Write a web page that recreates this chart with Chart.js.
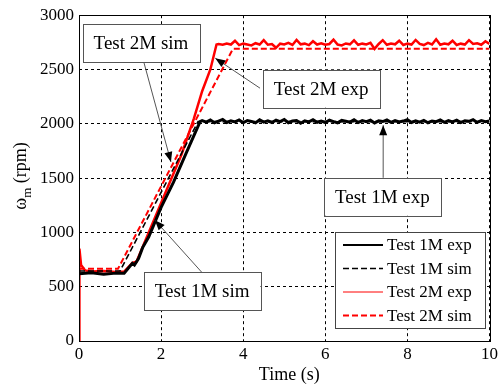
<!DOCTYPE html>
<html>
<head>
<meta charset="utf-8">
<script src="https://cdn.jsdelivr.net/npm/chart.js@4"></script>
<style>
  html, body { margin: 0; padding: 0; background: #fff; }
  #wrap { width: 501px; height: 385px; }
</style>
</head>
<body>
<div id="wrap"><canvas id="speedChart" width="501" height="385"></canvas></div>
<script>
// Test 1M exp (measured, black solid)
const t1mExp = [0, 0.3, 0.6, 0.9, 1.1, 1.3, 1.35, 1.45, 1.55, 1.7, 2.0, 2.3, 2.6, 2.95,
  3.0, 3.1, 3.2, 3.3, 3.4, 3.5, 3.6, 3.7, 3.8, 3.9,
  4.0, 4.1, 4.2, 4.3, 4.4, 4.5, 4.6, 4.7, 4.8, 4.9,
  5.0, 5.1, 5.2, 5.3, 5.4, 5.5, 5.6, 5.7, 5.8, 5.9,
  6.0, 6.1, 6.2, 6.3, 6.4, 6.5, 6.6, 6.7, 6.8, 6.9,
  7.0, 7.1, 7.2, 7.3, 7.4, 7.5, 7.6, 7.7, 7.8, 7.9,
  8.0, 8.1, 8.2, 8.3, 8.4, 8.5, 8.6, 8.7, 8.8, 8.9,
  9.0, 9.1, 9.2, 9.3, 9.4, 9.5, 9.6, 9.7, 9.8, 9.9, 10.0];
const w1mExp = [620, 628, 615, 625, 625, 715, 700, 760, 860, 960, 1230, 1460, 1720, 2020,
  2030, 2015, 2035, 2010, 2025, 2040, 2012, 2028, 2018, 2035,
  2010, 2030, 2022, 2008, 2036, 2015, 2027, 2012, 2033, 2020,
  2040, 2010, 2025, 2030, 2005, 2028, 2018, 2038, 2014, 2026,
  2012, 2034, 2020, 2009, 2031, 2024, 2015, 2037, 2011, 2029,
  2019, 2033, 2008, 2027, 2021, 2036, 2013, 2030, 2017, 2025,
  2039, 2012, 2028, 2016, 2032, 2010, 2026, 2020, 2035, 2014,
  2029, 2018, 2034, 2011, 2027, 2023, 2038, 2013, 2030, 2019, 2025];

// Test 1M sim (black dashed)
const t1mSim = [0, 1.0, 2.9, 10];
const w1mSim = [645, 645, 2020, 2020];

// Test 2M exp (measured, red solid)
const t2mExp = [0, 0.01, 0.05, 0.15, 0.3, 0.6, 0.9, 1.1, 1.3, 1.4, 1.5, 2.0, 2.5, 2.8, 3.0, 3.2, 3.35,
  3.4, 3.5, 3.6, 3.7, 3.8, 3.9,
  4.0, 4.1, 4.2, 4.3, 4.4, 4.5, 4.6, 4.7, 4.8, 4.9,
  5.0, 5.1, 5.2, 5.3, 5.4, 5.5, 5.6, 5.7, 5.8, 5.9,
  6.0, 6.1, 6.2, 6.3, 6.4, 6.5, 6.6, 6.7, 6.8, 6.9,
  7.0, 7.1, 7.2, 7.3, 7.4, 7.5, 7.6, 7.7, 7.8, 7.9,
  8.0, 8.1, 8.2, 8.3, 8.4, 8.5, 8.6, 8.7, 8.8, 8.9,
  9.0, 9.1, 9.2, 9.3, 9.4, 9.5, 9.6, 9.7, 9.8, 9.9, 10.0];
const w2mExp = [0, 850, 700, 650, 640, 645, 635, 640, 720, 730, 820, 1270, 1720, 2050, 2300, 2500, 2730,
  2735, 2728, 2740, 2730, 2765, 2725,
  2738, 2730, 2722, 2742, 2730, 2770, 2728, 2735, 2700, 2738,
  2730, 2745, 2726, 2772, 2732, 2738, 2725, 2760, 2730, 2742,
  2728, 2735, 2775, 2730, 2722, 2740, 2732, 2768, 2728, 2738,
  2730, 2745, 2690, 2735, 2770, 2728, 2740, 2732, 2765, 2726,
  2738, 2730, 2772, 2735, 2725, 2745, 2730, 2778, 2728, 2740,
  2732, 2765, 2726, 2738, 2730, 2770, 2735, 2742, 2728, 2760, 2735];

// Test 2M sim (red dashed)
const t2mSim = [0, 0.95, 3.75, 10];
const w2mSim = [665, 665, 2690, 2690];

const xTicks = [0, 2, 4, 6, 8, 10];
const yTicks = [0, 500, 1000, 1500, 2000, 2500, 3000];

const seriesNames = ['Test 1M exp', 'Test 1M sim', 'Test 2M exp', 'Test 2M sim'];

// callout boxes: centre, arrow tail and arrow tip in data units (s, rpm)
const callouts = [
  { text: 'Test 2M sim', box: [1.51, 2742], from: [1.58, 2567], to: [2.24, 1649] },
  { text: 'Test 2M exp', box: [5.90, 2323], from: [4.41, 2328], to: [3.32, 2604] },
  { text: 'Test 1M exp', box: [7.39, 1328], from: [7.41, 1499], to: [7.41, 1987] },
  { text: 'Test 1M sim', box: [3.00, 458], from: [2.99, 633], to: [1.85, 1112] }
];

const serif = '"Liberation Serif", "DejaVu Serif", serif';

const toPoints = (xs, ys) => xs.map((x, i) => ({ x: x, y: ys[i] }));

const extras = {
  id: 'extras',
  afterDraw(chart) {
    const ctx = chart.ctx;
    const area = chart.chartArea;
    const xs = chart.scales.x;
    const ys = chart.scales.y;
    ctx.save();

    // frame
    ctx.strokeStyle = '#000';
    ctx.lineWidth = 1;
    ctx.setLineDash([]);
    ctx.strokeRect(Math.round(area.left) + 0.5, Math.round(area.top) + 0.5,
      Math.round(area.right - area.left), Math.round(area.bottom - area.top));

    // callouts
    ctx.font = '19px ' + serif;
    callouts.forEach((c) => {
      const x1 = xs.getPixelForValue(c.from[0]);
      const y1 = ys.getPixelForValue(c.from[1]);
      const x2 = xs.getPixelForValue(c.to[0]);
      const y2 = ys.getPixelForValue(c.to[1]);
      ctx.strokeStyle = '#555';
      ctx.lineWidth = 1;
      ctx.beginPath();
      ctx.moveTo(x1, y1);
      ctx.lineTo(x2, y2);
      ctx.stroke();
      const ang = Math.atan2(y2 - y1, x2 - x1);
      const len = 10, half = 4;
      ctx.fillStyle = '#000';
      ctx.beginPath();
      ctx.moveTo(x2, y2);
      ctx.lineTo(x2 - len * Math.cos(ang) + half * Math.sin(ang), y2 - len * Math.sin(ang) - half * Math.cos(ang));
      ctx.lineTo(x2 - len * Math.cos(ang) - half * Math.sin(ang), y2 - len * Math.sin(ang) + half * Math.cos(ang));
      ctx.closePath();
      ctx.fill();

      const cx = xs.getPixelForValue(c.box[0]);
      const cy = ys.getPixelForValue(c.box[1]);
      const w = ctx.measureText(c.text).width + 22;
      const h = 38;
      ctx.fillStyle = '#fff';
      ctx.fillRect(cx - w / 2, cy - h / 2, w, h);
      ctx.strokeStyle = '#555';
      ctx.strokeRect(Math.round(cx - w / 2) + 0.5, Math.round(cy - h / 2) + 0.5, Math.round(w), h);
      ctx.fillStyle = '#000';
      ctx.textAlign = 'center';
      ctx.textBaseline = 'middle';
      ctx.fillText(c.text, cx, cy + 1);
    });

    // legend box (lower right)
    const lx = 335, ly = 232, lw = 150, lh = 96;
    ctx.fillStyle = '#fff';
    ctx.fillRect(lx, ly, lw, lh);
    ctx.strokeStyle = '#444';
    ctx.lineWidth = 1;
    ctx.strokeRect(lx + 0.5, ly + 0.5, lw, lh);
    ctx.font = '17px ' + serif;
    ctx.textAlign = 'left';
    ctx.textBaseline = 'middle';
    chart.data.datasets.forEach((ds, i) => {
      const yy = ly + 13 + i * 23.5;
      ctx.strokeStyle = ds.borderColor;
      ctx.lineWidth = ds.legendWidth;
      ctx.setLineDash(ds.borderDash || []);
      ctx.beginPath();
      ctx.moveTo(lx + 8, yy);
      ctx.lineTo(lx + 48, yy);
      ctx.stroke();
      ctx.setLineDash([]);
      ctx.fillStyle = '#000';
      ctx.fillText(ds.label, lx + 52, yy + 1);
    });

    // axis titles
    ctx.fillStyle = '#000';
    ctx.font = '18px ' + serif;
    ctx.textAlign = 'center';
    ctx.textBaseline = 'alphabetic';
    ctx.fillText('Time (s)', (area.left + area.right) / 2 + 5, 380);

    ctx.translate(26, 176);
    ctx.rotate(-Math.PI / 2);
    ctx.textAlign = 'left';
    const omega = 'ω';
    const sub = 'm';
    const rest = ' (rpm)';
    ctx.font = '18px ' + serif;
    const wO = ctx.measureText(omega).width;
    ctx.font = '13px ' + serif;
    const wS = ctx.measureText(sub).width;
    ctx.font = '18px ' + serif;
    const wR = ctx.measureText(rest).width;
    let px = -(wO + wS + wR) / 2;
    ctx.fillText(omega, px, 0);
    px += wO;
    ctx.font = '13px ' + serif;
    ctx.fillText(sub, px, 5);
    px += wS;
    ctx.font = '18px ' + serif;
    ctx.fillText(rest, px, 0);

    ctx.restore();
  }
};

new Chart(document.getElementById('speedChart'), {
  type: 'line',
  data: {
    datasets: [
      { label: seriesNames[0], data: toPoints(t1mExp, w1mExp), borderColor: '#000', borderWidth: 3, legendWidth: 2 },
      { label: seriesNames[1], data: toPoints(t1mSim, w1mSim), borderColor: '#000', borderWidth: 1.6, borderDash: [6, 3], legendWidth: 1.6 },
      { label: seriesNames[2], data: toPoints(t2mExp, w2mExp), borderColor: '#ff0000', borderWidth: 2.5, legendWidth: 1 },
      { label: seriesNames[3], data: toPoints(t2mSim, w2mSim), borderColor: '#ff0000', borderWidth: 2, borderDash: [6, 3], legendWidth: 2 }
    ]
  },
  options: {
    responsive: false,
    animation: false,
    devicePixelRatio: 1,
    layout: { padding: { top: 15, right: 8, left: 0, bottom: 0 } },
    elements: { point: { radius: 0 }, line: { tension: 0, fill: false } },
    plugins: { legend: { display: false }, tooltip: { enabled: false } },
    scales: {
      x: {
        type: 'linear',
        min: 0,
        max: 10,
        afterFit: (s) => { s.height = 44; },
        afterBuildTicks: (s) => { s.ticks = xTicks.map((v) => ({ value: v })); },
        grid: { color: '#000', lineWidth: 1, drawTicks: false },
        border: { display: false, dash: [3, 3] },
        ticks: { color: '#000', font: { family: serif, size: 17 }, padding: 3, maxRotation: 0, callback: (v) => String(v) }
      },
      y: {
        min: 0,
        max: 3000,
        afterFit: (s) => { s.width = 79; },
        afterBuildTicks: (s) => { s.ticks = yTicks.map((v) => ({ value: v })); },
        grid: { color: '#000', lineWidth: 1, drawTicks: false },
        border: { display: false, dash: [3, 3] },
        ticks: { color: '#000', font: { family: serif, size: 17 }, padding: 5, callback: (v) => String(v) }
      }
    }
  },
  plugins: [extras]
});
</script>
</body>
</html>
